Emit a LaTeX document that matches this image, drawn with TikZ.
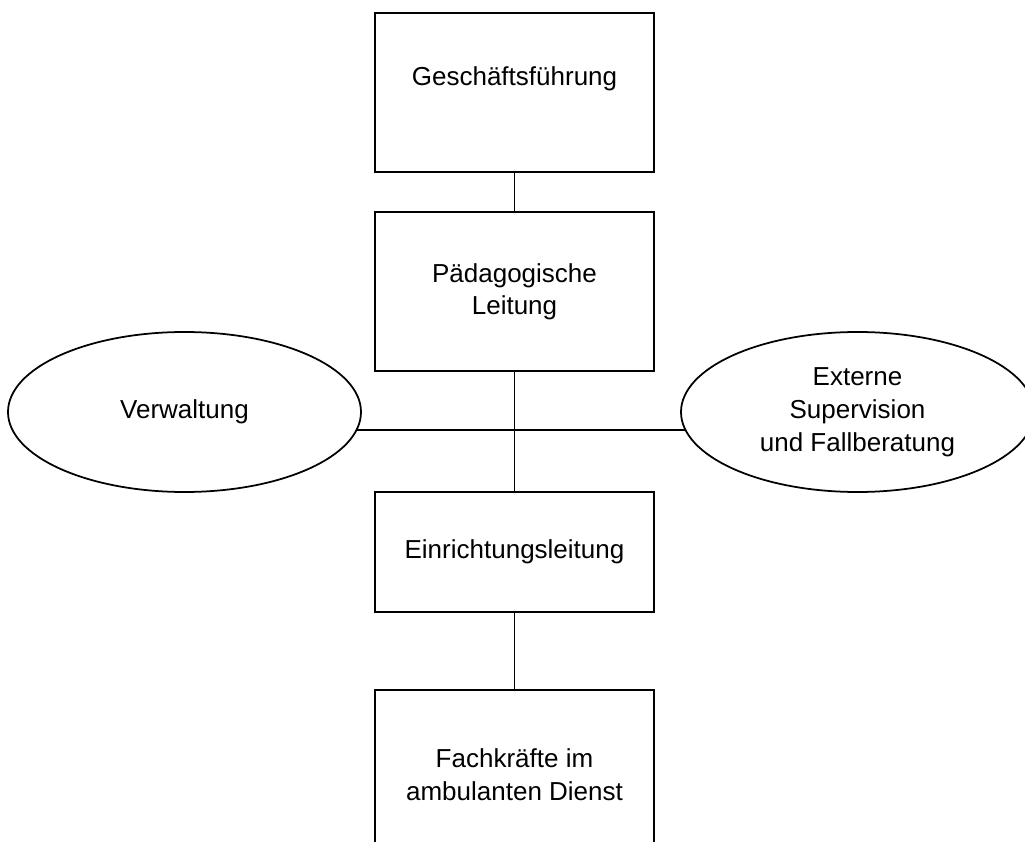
\documentclass[tikz,border=0pt]{standalone}
\usepackage{fontspec}
\setmainfont{Liberation Sans}
\usetikzlibrary{positioning}
\usetikzlibrary{shapes.geometric}

\tikzset{
 orgbox/.style={draw,line width=1pt,minimum width=5.58cm,align=center,font=\fontsize{14.8}{18.7}\selectfont},
 orgoval/.style={draw,ellipse,line width=1pt,minimum width=7.06cm,minimum height=3.2cm,inner sep=0pt,align=center,font=\fontsize{14.8}{18.7}\selectfont},
 orgline/.style={line width=1.1pt}
}

\begin{document}
\begin{tikzpicture}
 \useasboundingbox (0,0) rectangle (20.5,-16.84);
 \clip (0,0) rectangle (20.5,-16.84);
 % Leitungsebenen
 \node[orgbox,minimum height=3.18cm] (gf) at (10.29,-1.85) {Geschäftsführung\\~};
 \node[orgbox,minimum height=3.18cm,below=0.77cm of gf] (pl) {Pädagogische\\Leitung};
 \node[orgbox,minimum height=2.4cm,below=2.38cm of pl] (el) {Einrichtungsleitung};
 \node[orgbox,minimum height=3.36cm,below=1.53cm of el] (fk) {Fachkräfte im\\ambulanten Dienst};
 % Stabsstellen
 \node[orgoval] (vw) at (3.69,-8.24) {Verwaltung};
 \node[orgoval] (sv) at (17.15,-8.24) {Externe\\Supervision\\und Fallberatung};
 % Verbindungen
 \draw[orgline] (gf) -- (pl);
 \draw[orgline] (pl) -- (el);
 \draw[orgline] (el) -- (fk);
 \draw[orgline] (vw.-6.67) -- (sv.186.67);
\end{tikzpicture}
\end{document}
